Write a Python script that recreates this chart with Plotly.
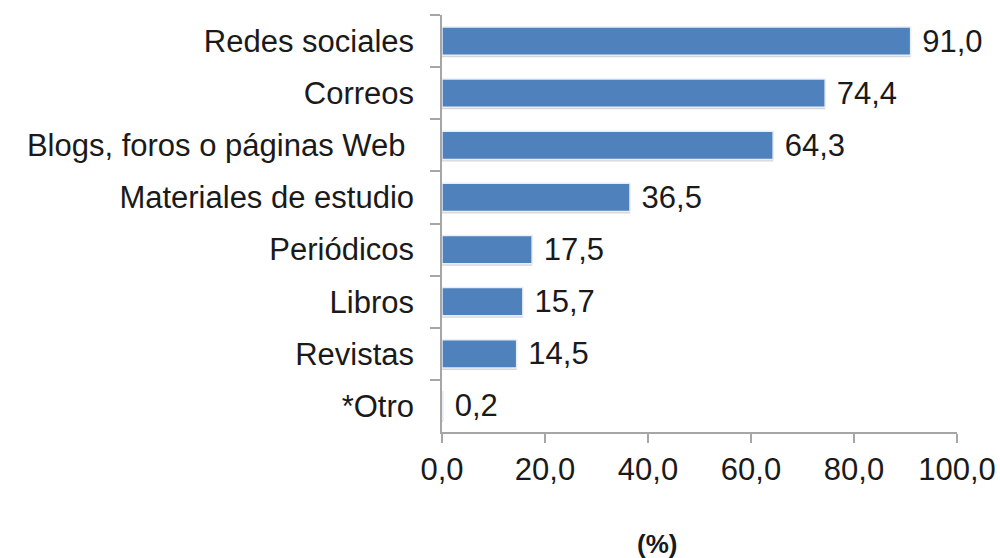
import plotly.graph_objects as go

categories = ["Redes sociales", "Correos", "Blogs, foros o páginas Web ", "Materiales de estudio",
              "Periódicos", "Libros", "Revistas", "*Otro"]
values = [91.0, 74.4, 64.3, 36.5, 17.5, 15.7, 14.5, 0.2]
x_ticks = [0, 20, 40, 60, 80, 100]
x_tick_labels = ["0,0", "20,0", "40,0", "60,0", "80,0", "100,0"]

font_family = "Liberation Sans, Arial, sans-serif"
FS = 31

fig = go.Figure()
# soft shadow
fig.add_trace(go.Bar(
    y=categories, x=values, orientation="h",
    marker=dict(color="rgba(0,0,0,0.16)", line=dict(width=0)),
    width=0.54, offset=-0.23,
    hoverinfo="skip", showlegend=False,
))
fig.add_trace(go.Bar(
    y=categories, x=values, orientation="h",
    marker=dict(color="#4F81BD", line=dict(color="#E8EEF6", width=1.5)),
    width=0.54,
    text=values, texttemplate="\u00a0%{x:.1f}", textposition="outside",
    constraintext="none",
    textfont=dict(family=font_family, size=FS, color="#1a1a1a"),
    cliponaxis=False, showlegend=False,
))

fig.update_layout(
    width=1000, height=558,
    margin=dict(l=442, r=43, t=15, b=126),
    plot_bgcolor="white", paper_bgcolor="white",
    separators=",.",
    barmode="overlay",
    font=dict(family=font_family, size=FS, color="#1a1a1a"),
    xaxis=dict(range=[0, 100], tickvals=x_ticks, ticktext=x_tick_labels,
               showgrid=False, zeroline=False, showline=True, linecolor="#A6A6A6", linewidth=1.5,
               ticks="outside", ticklen=9, tickcolor="#A6A6A6", tickwidth=1.5,
               tickfont=dict(size=FS), automargin=False),
    yaxis=dict(autorange="reversed", categoryorder="array", categoryarray=categories,
               showgrid=False, zeroline=False, showline=True, linecolor="#A6A6A6", linewidth=1.5,
               ticks="outside", ticklen=10, tickcolor="#A6A6A6", tickwidth=1.5,
               tickson="boundaries", ticklabelstandoff=20,
               tickfont=dict(size=FS), automargin=False),
    annotations=[dict(text="<b>(%)</b>", xref="paper", yref="paper", x=0.417, y=0,
                      yshift=-112, xanchor="center", yanchor="middle", showarrow=False,
                      font=dict(size=26, color="#1a1a1a"))],
)

fig.write_html("out.html",
               config={"displayModeBar": False},
               post_script="document.body.style.margin='0';document.body.style.overflow='hidden';")
